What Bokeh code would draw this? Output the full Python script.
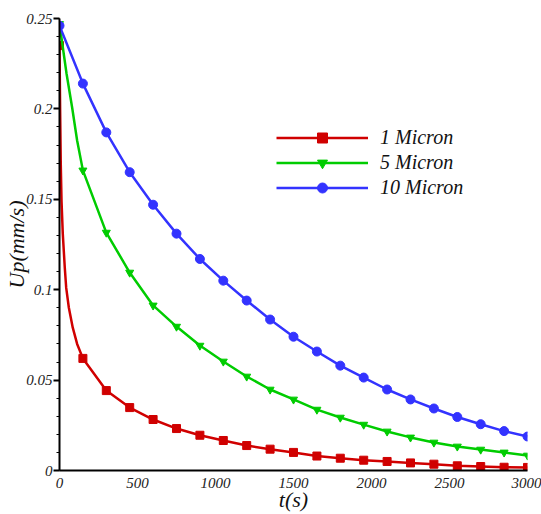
from bokeh.plotting import figure
from bokeh.models import FixedTicker, Range1d, Legend, LegendItem, CustomJSTickFormatter
from bokeh.embed import file_html
from bokeh.resources import INLINE

# ---- data ----
t_marks = [0, 150, 300, 450, 600, 750, 900, 1050, 1200, 1350, 1500,
           1650, 1800, 1950, 2100, 2250, 2400, 2550, 2700, 2850, 3000]

red_v = [0.235, 0.062, 0.0442, 0.0348, 0.0282, 0.0232, 0.0195, 0.0166, 0.0138, 0.0118, 0.0100,
         0.0080, 0.0068, 0.0057, 0.0050, 0.0042, 0.0035, 0.0026, 0.0022, 0.0018, 0.0017]
green_v = [0.247, 0.166, 0.1316, 0.1095, 0.0913, 0.0796, 0.0691, 0.0603, 0.0520, 0.0448, 0.0393,
           0.0337, 0.0293, 0.0254, 0.0216, 0.0183, 0.0155, 0.0133, 0.0116, 0.0100, 0.0083]
blue_v = [0.246, 0.214, 0.187, 0.165, 0.147, 0.131, 0.117, 0.105, 0.094, 0.0835, 0.074,
          0.0658, 0.058, 0.0514, 0.0448, 0.0393, 0.0343, 0.0296, 0.0256, 0.0218, 0.0188]

# extra points on the curves between markers
red_extra_t = [4, 8, 13, 21, 34, 43, 60, 85, 113]
red_extra_v = [0.200, 0.170, 0.149, 0.131, 0.112, 0.101, 0.090, 0.079, 0.070]
green_extra_t = [45, 81, 113]
green_extra_v = [0.2196, 0.2008, 0.1825]
blue_extra_t = []
blue_extra_v = []

series_labels = ["1 Micron", "5 Micron", "10 Micron"]
series_colors = ["#d00000", "#00cc00", "#3333ff"]

x_ticks = [0, 500, 1000, 1500, 2000, 2500, 3000]
x_tick_labels = ["0", "500", "1000", "1500", "2000", "2500", "3000"]
y_ticks = [0, 0.05, 0.1, 0.15, 0.2, 0.25]
y_tick_labels = ["0", "0.05", "0.1", "0.15", "0.2", "0.25"]


def merged(t1, v1, t2, v2):
    pts = sorted(zip(list(t1) + list(t2), list(v1) + list(v2)))
    return [a for a, _ in pts], [b for _, b in pts]


FONT = "'Liberation Serif', 'Times New Roman', serif"

p = figure(width=541, height=514, output_backend="svg", toolbar_location=None,
           x_range=Range1d(0, 3000), y_range=Range1d(0, 0.25),
           min_border_left=59, min_border_right=14, min_border_top=18, min_border_bottom=44)
p.outline_line_color = None
p.grid.visible = False

items = []
marks = ["square", "inverted_triangle", "circle"]
sizes = [8, 8, 9]
vals = [red_v, green_v, blue_v]
extras = [(red_extra_t, red_extra_v), (green_extra_t, green_extra_v), (blue_extra_t, blue_extra_v)]
for lab, col, mk, sz, v, (et, ev) in zip(series_labels, series_colors, marks, sizes, vals, extras):
    lt, lv = merged(t_marks, v, et, ev)
    lr = p.line(lt, lv, line_color=col, line_width=2.5)
    sr = p.scatter(t_marks, v, marker=mk, size=sz, fill_color=col, line_color=col)
    items.append(LegendItem(label=lab, renderers=[lr, sr]))

legend = Legend(items=items, location=(217, 270), padding=0, margin=0, spacing=0,
                glyph_width=92, glyph_height=25, label_height=25, label_standoff=12,
                border_line_color=None, background_fill_alpha=0,
                label_text_font=FONT, label_text_font_style="italic",
                label_text_font_size="20px", label_text_color="#111")
p.add_layout(legend)

# axes
JS = """
let k = -1;
for (let j = 0; j < tv.length; j++) { if (Math.abs(tv[j] - tick) < 1e-9) { k = j; } }
return k >= 0 ? tl[k] : '';
"""
p.xaxis.ticker = FixedTicker(ticks=x_ticks)
p.xaxis.formatter = CustomJSTickFormatter(args=dict(tv=x_ticks, tl=x_tick_labels), code=JS)
y_minor = [i / 100 for i in range(26)]
p.yaxis.ticker = FixedTicker(ticks=y_ticks, minor_ticks=y_minor)
p.yaxis.formatter = CustomJSTickFormatter(args=dict(tv=y_ticks, tl=y_tick_labels), code=JS)

for ax in (p.xaxis[0], p.yaxis[0]):
    ax.axis_line_color = "black"
    ax.axis_line_width = 2
    ax.major_label_text_font = FONT
    ax.major_label_text_font_style = "italic"
    ax.major_label_text_font_size = "15px"
    ax.major_label_text_color = "#222"
    ax.axis_label_text_font = FONT
    ax.axis_label_text_font_style = "italic"
    ax.axis_label_text_font_size = "22px"
    ax.axis_label_text_color = "#111"

p.xaxis.major_tick_line_color = None
p.xaxis.minor_tick_line_color = None
p.xaxis.major_label_standoff = 1
p.xaxis.axis_label = "t(s)"
p.xaxis.axis_label_standoff = -4

p.yaxis.major_tick_out = 6
p.yaxis.major_tick_in = 0
p.yaxis.major_tick_line_width = 2
p.yaxis.minor_tick_out = 3
p.yaxis.minor_tick_in = 0
p.yaxis.minor_tick_line_width = 1
p.yaxis.major_label_standoff = 1
p.yaxis.axis_label = "Up(mm/s)"
p.yaxis.axis_label_standoff = -6

open("out.html", "w").write(file_html(p, INLINE))
